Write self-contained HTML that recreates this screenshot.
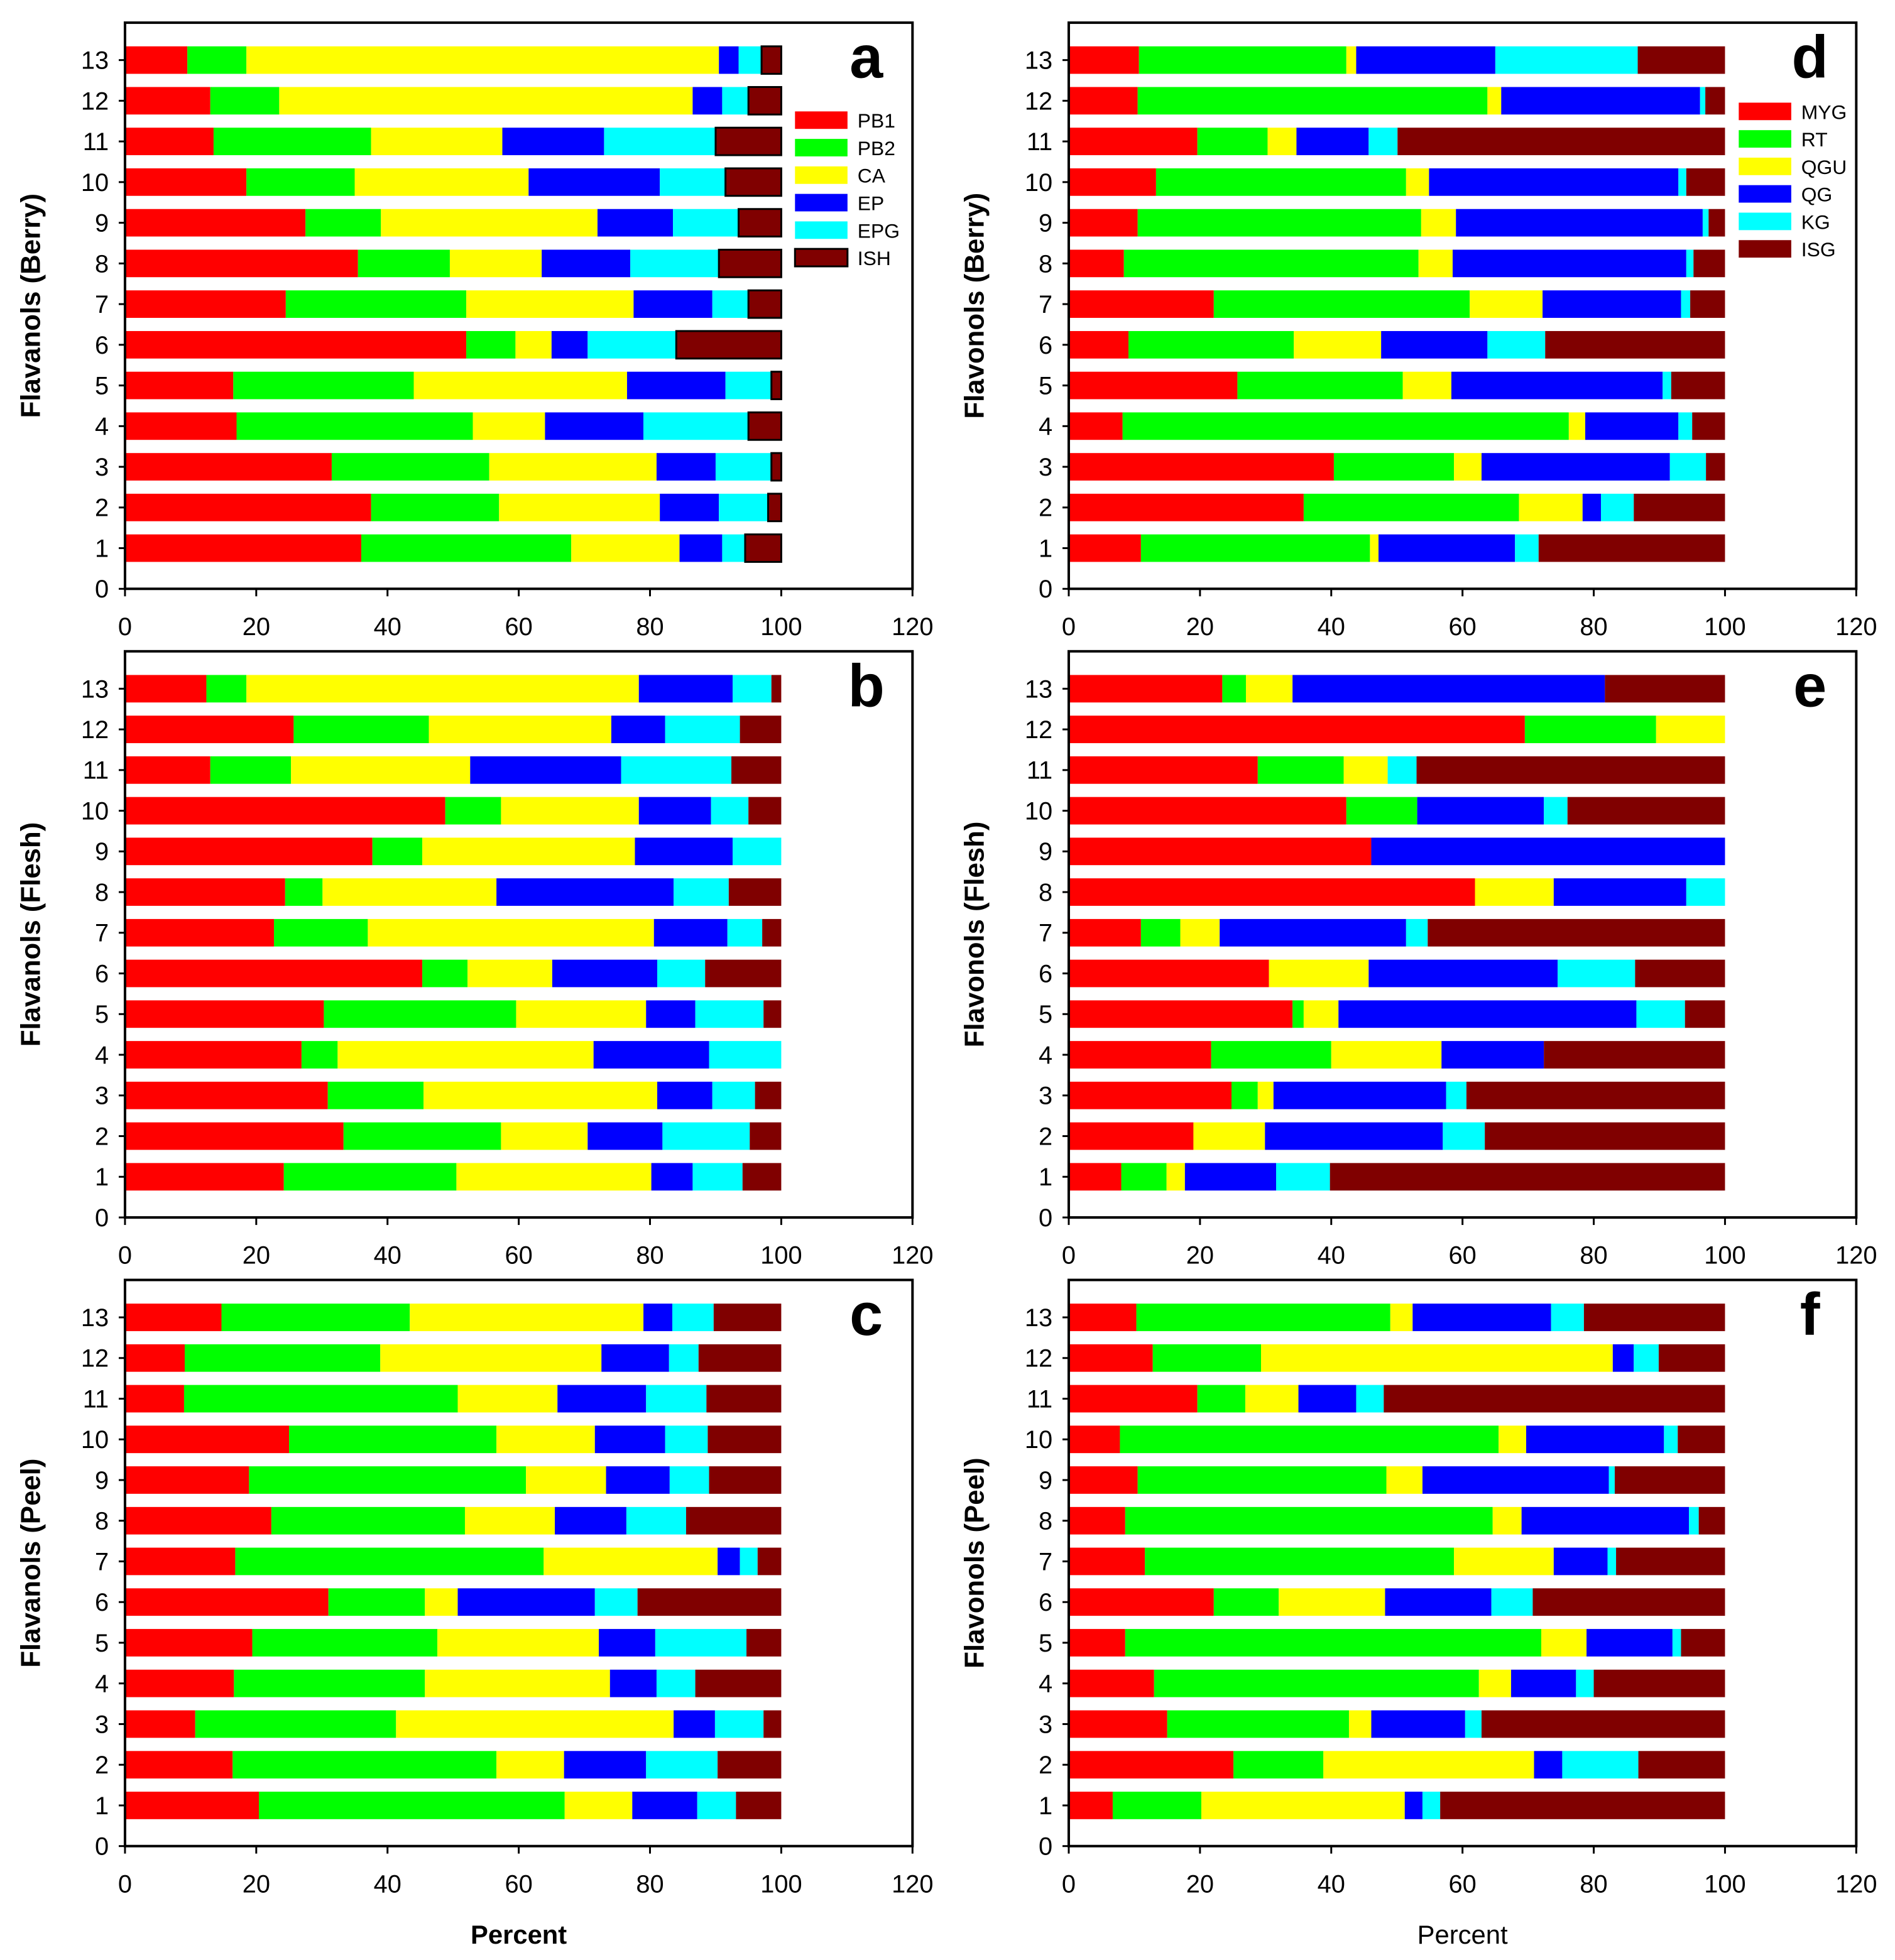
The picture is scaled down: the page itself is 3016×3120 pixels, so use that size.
<!DOCTYPE html>
<html><head><meta charset="utf-8"><style>
html,body{margin:0;padding:0;background:#fff;}
svg{display:block;}
text{font-family:"Liberation Sans",Arial,sans-serif;}
</style></head><body>
<svg id="fig" width="3016" height="3120" viewBox="0 0 1516 1568" xmlns="http://www.w3.org/2000/svg"></svg>
<script>
// Categories (cultivar index) and tick labels
const categories = [1,2,3,4,5,6,7,8,9,10,11,12,13];
const yTicks = [0,1,2,3,4,5,6,7,8,9,10,11,12,13];
const xTicks = [0,20,40,60,80,100,120];
const flavanolSeries = ["PB1","PB2","CA","EP","EPG","ISH"];
const flavonolSeries = ["MYG","RT","QGU","QG","KG","ISG"];
const seriesColors = ["#ff0000","#00ff00","#ffff00","#0000ff","#00ffff","#800000"];
// Cumulative percent boundaries per category (rows = categories 1..13, cols = series end positions)
const aCum = [[36,68,84.5,91,94.5,100],[37.5,57,81.5,90.5,98,100],[31.5,55.5,81,90,98.5,100],[17,53,64,79,95,100],[16.5,44,76.5,91.5,98.5,100],[52,59.5,65,70.5,84,100],[24.5,52,77.5,89.5,95,100],[35.5,49.5,63.5,77,90.5,100],[27.5,39,72,83.5,93.5,100],[18.5,35,61.5,81.5,91.5,100],[13.5,37.5,57.5,73,90,100],[13,23.5,86.5,91,95,100],[9.5,18.5,90.5,93.5,97,100]];
const bCum = [[24.2,50.5,80.2,86.5,94.1,100],[33.3,57.3,70.5,81.9,95.2,100],[30.9,45.5,81.1,89.5,96,100],[26.9,32.4,71.4,89,100,100],[30.3,59.6,79.4,86.9,97.3,100],[45.3,52.2,65.1,81.1,88.4,100],[22.7,37,80.6,91.8,97.1,100],[24.4,30.1,56.6,83.6,92,100],[37.7,45.3,77.7,92.6,100,100],[48.8,57.3,78.3,89.3,95,100],[13,25.3,52.6,75.6,92.4,100],[25.7,46.3,74.1,82.3,93.7,100],[12.4,18.5,78.3,92.6,98.5,100]];
const cCum = [[20.4,67,77.3,87.2,93.1,100],[16.4,56.6,66.9,79.4,90.3,100],[10.7,41.3,83.6,89.9,97.3,100],[16.6,45.7,73.9,81,86.9,100],[19.4,47.6,72.2,80.8,94.7,100],[31,45.7,50.7,71.6,78.1,100],[16.8,63.8,90.3,93.7,96.4,100],[22.3,51.8,65.5,76.4,85.5,100],[18.9,61.1,73.3,83,89,100],[25,56.6,71.6,82.3,88.8,100],[9,50.7,65.9,79.4,88.6,100],[9.1,38.9,72.6,82.9,87.4,100],[14.7,43.4,79,83.4,89.7,100]];
const dCum = [[11,45.9,47.2,68,71.6,100],[35.8,68.6,78.3,81.1,86.1,100],[40.4,58.7,62.9,91.6,97.1,100],[8.2,76.2,78.7,92.9,95,100],[25.7,50.9,58.3,90.5,91.8,100],[9.1,34.3,47.6,63.8,72.6,100],[22.1,61.1,72.2,93.3,94.7,100],[8.4,53.3,58.5,94.1,95.2,100],[10.5,53.7,59,96.6,97.5,100],[13.3,51.4,54.9,92.9,94.1,100],[19.6,30.3,34.7,45.7,50.1,100],[10.5,63.8,65.9,96.2,97,100],[10.7,42.3,43.8,65,86.7,100]];
const eCum = [[8,14.9,17.7,31.6,39.8,100],[19,19,29.9,57,63.4,100],[24.8,28.8,31.2,57.5,60.6,100],[21.7,40,56.8,72.4,72.4,100],[34.1,35.8,41.1,86.5,93.9,100],[30.5,30.5,45.7,74.5,86.3,100],[11,17,23,51.4,54.7,100],[61.9,61.9,73.9,94.1,100,100],[46.1,46.1,46.1,100,100,100],[42.3,53.1,53.1,72.4,76,100],[28.8,41.9,48.6,48.6,53,100],[69.5,89.5,100,100,100,100],[23.4,27,34.1,81.7,81.7,100]];
const fCum = [[6.7,20.2,51.2,53.9,56.6,100],[25.1,38.8,70.9,75.2,86.8,100],[15,42.7,46.1,60.4,62.9,100],[13,62.5,67.4,77.3,80,100],[8.6,72,78.9,92,93.3,100],[22.1,32,48.2,64.4,70.7,100],[11.6,58.7,73.9,82.1,83.4,100],[8.6,64.6,69,94.5,96,100],[10.5,48.4,53.9,82.3,83.2,100],[7.8,65.5,69.7,90.7,92.8,100],[19.6,26.9,35,43.8,48,100],[12.8,29.3,82.9,86.1,89.9,100],[10.3,49,52.4,73.5,78.5,100]];

const NS="http://www.w3.org/2000/svg";
const svg=document.getElementById('fig');
function mk(tag,attrs,parent){const e=document.createElementNS(NS,tag);for(const k in attrs)e.setAttribute(k,attrs[k]);(parent||svg).appendChild(e);return e;}

const panels=[
 {id:'a',data:aCum,left:100,top:18,title:'Flavanols (Berry)',series:flavanolSeries,legend:{x:636,y:96},outline:true},
 {id:'b',data:bCum,left:100,top:521,title:'Flavanols (Flesh)',series:flavanolSeries},
 {id:'c',data:cCum,left:100,top:1024,title:'Flavanols (Peel)',series:flavanolSeries,xlabel:true},
 {id:'d',data:dCum,left:855,top:18,title:'Flavonols (Berry)',series:flavonolSeries,legend:{x:1391,y:89}},
 {id:'e',data:eCum,left:855,top:521,title:'Flavonols (Flesh)',series:flavonolSeries},
 {id:'f',data:fCum,left:855,top:1024,title:'Flavonols (Peel)',series:flavonolSeries,xlabel:true}
];
const W=630,H=453,XMAX=120,YMAX=13.92,BH=22;

panels.forEach(p=>{
  const g=mk('g',{});
  
  
  const xs=v=>p.left+v*W/XMAX;
  const ys=k=>p.top+H-k*H/YMAX;
  p.data.forEach((row,ri)=>{
    const cat=categories[ri];
    let prev=0;
    row.forEach((end,si)=>{
      const w=xs(end)-xs(prev);
      if(w>0.01){
        const r=mk('rect',{x:xs(prev),y:ys(cat)-BH/2,width:w,height:BH,fill:seriesColors[si]},g);
        if(p.outline&&si===5){r.setAttribute('stroke','#000');r.setAttribute('stroke-width','1.5');}
        
        
      }
      prev=end;
    });
  });
  const f=mk('rect',{x:p.left,y:p.top,width:W,height:H,fill:'none',stroke:'#000','stroke-width':2},g);
  
  
  yTicks.forEach(t=>{
    mk('line',{x1:p.left-5,x2:p.left,y1:ys(t),y2:ys(t),stroke:'#000','stroke-width':1.5},g);
    const tx=mk('text',{x:p.left-13,y:ys(t)+7,'font-size':20,'text-anchor':'end',fill:'#000'},g);
    tx.textContent=t;
    
    
  });
  xTicks.forEach(t=>{
    mk('line',{x1:xs(t),x2:xs(t),y1:p.top+H,y2:p.top+H+6,stroke:'#000','stroke-width':1.5},g);
    const tx=mk('text',{x:xs(t),y:p.top+H+37,'font-size':20,'text-anchor':'middle',fill:'#000'},g);
    tx.textContent=t;
    
    
  });
  const cy=p.top+H/2, cx=p.left-68;
  const yt=mk('text',{x:cx,y:cy,'font-size':22,'font-weight':'bold','text-anchor':'middle',transform:`rotate(-90 ${cx} ${cy})`,fill:'#000'},g);
  yt.textContent=p.title;
  
  
  if(p.xlabel){
    const xt=mk('text',{x:p.left+315,y:1555,'font-size':21,'font-weight':p.id==='c'?'bold':'normal','text-anchor':'middle',fill:'#000'},g);
    xt.textContent='Percent';
    
    
  }
  mk('circle',{cx:p.left+593,cy:p.top+28,r:24,fill:'#fff'},g);
  const lt=mk('text',{x:p.left+593,y:p.top+44,'font-size':48,'font-weight':'bold','text-anchor':'middle',fill:'#000'},g);
  lt.textContent=p.id;
  
  
  if(p.legend){
    p.series.forEach((s,si)=>{
      const yy=p.legend.y+si*22;
      const r=mk('rect',{x:p.legend.x,y:yy-7,width:42,height:14,fill:seriesColors[si]},g);
      if(p.outline&&si===5){r.setAttribute('stroke','#000');r.setAttribute('stroke-width','1.5');}
      
      
      const tx=mk('text',{x:p.legend.x+50,y:yy+6,'font-size':16,fill:'#000'},g);
      tx.textContent=s;
      
      
    });
  }
});
</script>
</body></html>
